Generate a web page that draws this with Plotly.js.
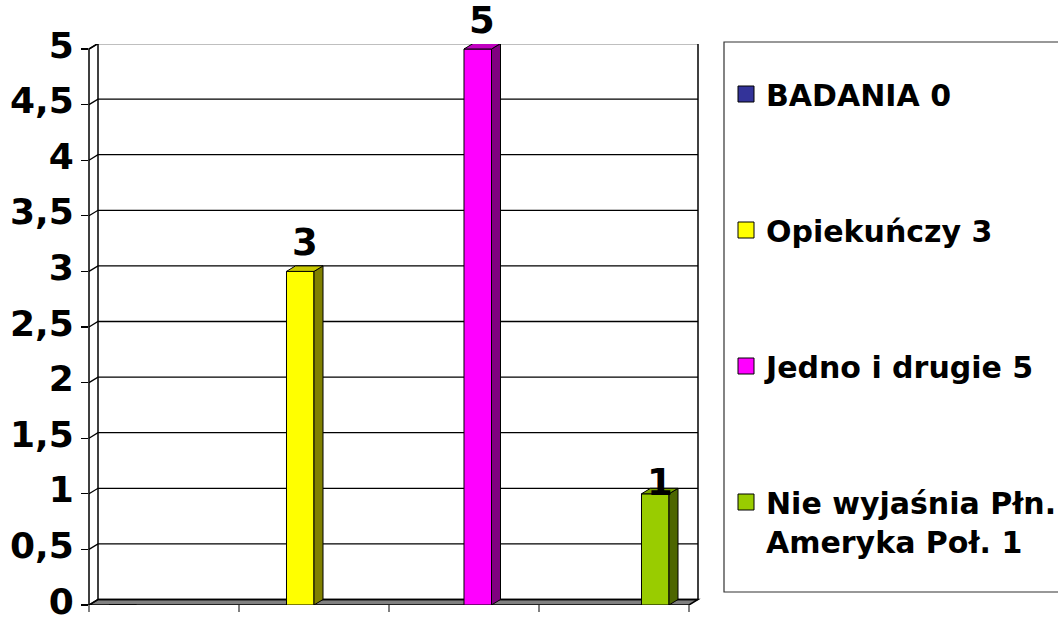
<!DOCTYPE html>
<html><head><meta charset="utf-8">
<script src="https://cdn.plot.ly/plotly-3.0.1.min.js"></script>
<style>html,body{margin:0;padding:0;background:#fff;}</style>
</head><body><div id="chart" style="width:1058px;height:618px;"></div>
<script>
// ---- data ----
const seriesNames = ['BADANIA 0', 'Opiekuńczy 3', 'Jedno i drugie 5', 'Nie wyjaśnia Płn.<br>Ameryka Poł. 1'];
const seriesValues = [0, 3, 5, 1];
const category = ['Wynik'];
const yTicks = [0, 0.5, 1, 1.5, 2, 2.5, 3, 3.5, 4, 4.5, 5];

// ---- styles ----
const frontColors = ['#333399', '#FFFF00', '#FF00FF', '#99CC00'];
const sideColors  = ['#1A1A4D', '#808000', '#800080', '#4D6600'];
const topColors   = ['#29297A', '#C8C800', '#C000C0', '#7AA300'];
const labelShift  = [0, 0, 0, -18];

const W = 1058, H = 618;
const M = {l: 89, r: 360, t: 44, b: 13};
const plotW = W - M.l - M.r;       // 609
const plotH = H - M.t - M.b;       // 561
const DX = 9, DY = 5.5;            // oblique depth offset (px)
const frontW = 600;                // front floor edge width (px)
const pxPerCat = 710;              // px per category unit
const groupCenterPx = 300;         // group center from plot left (px)
const pxPerUnit = 556 / 5;         // px per y unit on front plane
const BARGROUPGAP = 0.845;

const xRange = [-groupCenterPx / pxPerCat, (plotW - groupCenterPx) / pxPerCat];
const yRange = [0, plotH / pxPerUnit];
const dxD = DX / pxPerCat, dyD = DY / pxPerUnit, dxP = DX / plotW;
const yTop = Math.max(...yTicks);
const N = seriesValues.length;

const traces = [];
seriesValues.forEach((v, i) => {
  traces.push({
    type: 'bar', x: category, y: [v], name: seriesNames[i],
    marker: {color: frontColors[i], line: {color: '#000', width: 1}},
    showlegend: false, hoverinfo: 'skip'
  });
});
seriesNames.forEach((n, i) => {
  traces.push({
    type: 'scatter', mode: 'markers', x: [null], y: [null], name: n,
    legendgroup: 'g' + i,
    marker: {symbol: 'square', size: 16, color: frontColors[i], line: {color: '#000', width: 1}},
    hoverinfo: 'skip'
  });
});

const shapes = [];
const ln = {color: '#000', width: 1.3};
// floor
shapes.push({type: 'path', xref: 'paper', yref: 'y', layer: 'below',
  path: `M0,0 L${frontW/plotW},0 L1,${dyD} L${dxP},${dyD} Z`,
  fillcolor: '#808080', line: {color: '#000', width: 1.5}});
// back wall gridlines with side-wall diagonals
yTicks.forEach(v => {
  shapes.push({type: 'path', xref: 'paper', yref: 'y', layer: 'below',
    path: `M0,${v} L${dxP},${v+dyD} L1,${v+dyD}`, line: ln});
});
// wall edges
shapes.push({type: 'path', xref: 'paper', yref: 'y', layer: 'below',
  path: `M0,0 L0,${yTop} L${dxP},${yTop+dyD}`, line: {color: '#000', width: 1.5}});
shapes.push({type: 'path', xref: 'paper', yref: 'y', layer: 'below',
  path: `M${dxP},${dyD} L${dxP},${yTop+dyD}`, line: {color: '#000', width: 1.5}});
shapes.push({type: 'path', xref: 'paper', yref: 'y', layer: 'below',
  path: `M1,${dyD} L1,${yTop+dyD}`, line: {color: '#000', width: 1.5}});
// front category-axis ticks
for (let k = 0; k <= N; k++) {
  const xp = (k * frontW / N) / plotW;
  shapes.push({type: 'line', xref: 'paper', yref: 'paper', layer: 'below',
    x0: xp, x1: xp, y0: 0, y1: -7 / plotH, line: {color: '#000', width: 1}});
}
// 3D faces of bars + value labels
const annotations = [];
const slot = 1 / N, bw = slot * (1 - BARGROUPGAP);
seriesValues.forEach((v, i) => {
  if (v <= 0) return;
  const c = (i - (N - 1) / 2) * slot;
  const xl = c - bw / 2, xr = c + bw / 2;
  shapes.push({type: 'path', xref: 'x', yref: 'y', layer: 'above',
    path: `M${xr},0 L${xr+dxD},${dyD} L${xr+dxD},${v+dyD} L${xr},${v} Z`,
    fillcolor: sideColors[i], line: {color: '#000', width: 1}});
  shapes.push({type: 'path', xref: 'x', yref: 'y', layer: 'above',
    path: `M${xl},${v} L${xl+dxD},${v+dyD} L${xr+dxD},${v+dyD} L${xr},${v} Z`,
    fillcolor: topColors[i], line: {color: '#000', width: 1}});
  annotations.push({xref: 'x', yref: 'y', x: c + dxD / 2, y: v,
    text: String(v), showarrow: false, xanchor: 'center', yanchor: 'bottom',
    yshift: DY + labelShift[i],
    font: {family: 'DejaVu Sans', size: 37, weight: 'bold', color: '#000'}});
});
// legend frame
shapes.push({type: 'rect', xref: 'paper', yref: 'paper', layer: 'below',
  x0: (724 - M.l) / plotW, x1: (1070 - M.l) / plotW,
  y0: (H - M.b - 592) / plotH, y1: (H - M.b - 42) / plotH,
  fillcolor: 'rgba(0,0,0,0)', line: {color: '#333', width: 1.2}});

const layout = {
  width: W, height: H,
  margin: {l: M.l, r: M.r, t: M.t, b: M.b, pad: 0, autoexpand: false},
  paper_bgcolor: '#fff', plot_bgcolor: 'rgba(0,0,0,0)',
  separators: ', ',
  barmode: 'group', bargap: 0, bargroupgap: BARGROUPGAP,
  font: {family: 'DejaVu Sans', color: '#000'},
  xaxis: {type: 'category', range: xRange, showticklabels: false, ticks: '',
    showgrid: false, zeroline: false, showline: false, automargin: false, fixedrange: true},
  yaxis: {range: yRange, tickvals: yTicks, ticks: 'outside', ticklen: 7, tickwidth: 1.3,
    tickcolor: '#000', ticklabeloverflow: 'allow', ticklabelshift: -4,
    tickfont: {family: 'DejaVu Sans', size: 36, weight: 'bold', color: '#000'},
    showgrid: false, zeroline: false, showline: false, automargin: false, fixedrange: true},
  legend: {x: (726 - M.l) / plotW, xanchor: 'left', y: (H - M.b - 68) / plotH, yanchor: 'top',
    font: {family: 'DejaVu Sans', size: 30, weight: 'bold', color: '#000'},
    traceorder: 'grouped', tracegroupgap: 94, valign: 'top',
    bgcolor: 'rgba(0,0,0,0)', borderwidth: 0},
  shapes: shapes, annotations: annotations, showlegend: true
};

Plotly.newPlot('chart', traces, layout, {displayModeBar: false, staticPlot: true});
</script>
</body></html>
